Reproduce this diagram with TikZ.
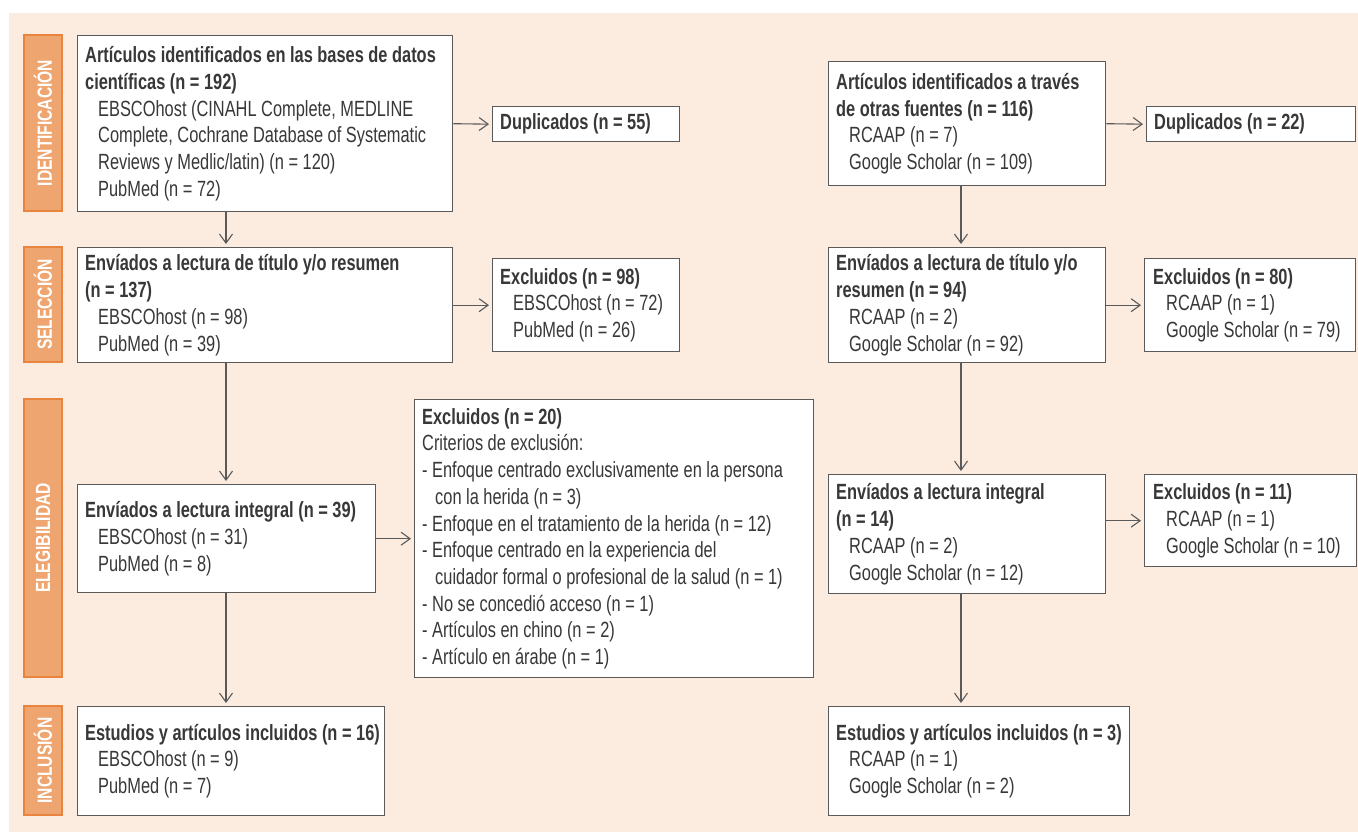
\documentclass[tikz,border=0pt]{standalone}
\usepackage{fontspec}
\setmainfont{Liberation Sans}[FakeStretch=0.745]
\newfontfamily\labelfont{Liberation Sans}[FakeStretch=0.76]
\usetikzlibrary{arrows.meta}
\definecolor{bgcol}{HTML}{FCEBDF}
\definecolor{barfill}{HTML}{EEA56F}
\definecolor{barline}{HTML}{E9843F}
\definecolor{boxline}{HTML}{5A5A5A}
\definecolor{textcol}{HTML}{383838}
\definecolor{labtext}{HTML}{FFFFFF}
\newcommand\myT[1]{\textbf{#1}}
\newcommand\myI[1]{\hspace*{13pt}#1}
\tikzset{
  box/.style={draw=boxline, fill=white, line width=1.4pt, rectangle, inner sep=0pt, anchor=north west},
  txt/.style={font=\fontsize{22}{26.7}\selectfont, text=textcol, align=left, inner sep=0pt, anchor=west},
  bar/.style={draw=barline, fill=barfill, line width=1.2pt, rotate=90, minimum height=38pt, inner sep=0pt,
              font=\labelfont\fontsize{20.5}{22}\selectfont\bfseries, text=labtext},
  arr/.style={draw=boxline, line width=1.1pt, -{Straight Barb[length=9pt,width=13pt,line width=1.1pt]}, shorten >=3pt}
}
\begin{document}
\begin{tikzpicture}[x=1pt,y=-1pt]
\useasboundingbox (0,0) rectangle (1358,832);
\fill[bgcol] (9,13) rectangle (1358,832);

% phase bars
\node[bar, minimum width=176pt] (Lid) at (43,123) {IDENTIFICACIÓN};
\node[bar, minimum width=115pt] (Lsel) at (43,304.5) {SELECCIÓN};
\node[bar, minimum width=278pt] (Leleg) at (43,538) {ELEGIBILIDAD};
\node[bar, minimum width=109pt] (Linc) at (43,760.5) {INCLUSIÓN};

% left column
\node[box, minimum width=375pt, minimum height=176pt] (A1) at (77,35) {};
\node[txt] (tA1) at ([xshift=8pt]A1.west) {\myT{Artículos identificados en las bases de datos}\\
\myT{científicas (n = 192)}\\
\myI{EBSCOhost (CINAHL Complete, MEDLINE}\\
\myI{Complete, Cochrane Database of Systematic}\\
\myI{Reviews y Medlic/latin) (n = 120)}\\
\myI{PubMed (n = 72)}};

\node[box, minimum width=187pt, minimum height=35pt] (D55) at (492,106) {};
\node[txt] (tD55) at ([xshift=8pt]D55.west) {\myT{Duplicados (n = 55)}};

\node[box, minimum width=375pt, minimum height=115pt] (A2) at (77,247) {};
\node[txt] (tA2) at ([xshift=8pt]A2.west) {\myT{Envíados a lectura de título y/o resumen}\\
\myT{(n = 137)}\\
\myI{EBSCOhost (n = 98)}\\
\myI{PubMed (n = 39)}};

\node[box, minimum width=187pt, minimum height=93pt] (E98) at (492,258) {};
\node[txt] (tE98) at ([xshift=8pt]E98.west) {\myT{Excluidos (n = 98)}\\
\myI{EBSCOhost (n = 72)}\\
\myI{PubMed (n = 26)}};

\node[box, minimum width=298pt, minimum height=108pt] (A3) at (77,484) {};
\node[txt] (tA3) at ([xshift=8pt]A3.west) {\myT{Envíados a lectura integral (n = 39)}\\
\myI{EBSCOhost (n = 31)}\\
\myI{PubMed (n = 8)}};

\node[box, minimum width=399pt, minimum height=278pt] (E20) at (414,399) {};
\node[txt] (tE20) at ([xshift=8pt]E20.west) {\myT{Excluidos (n = 20)}\\
Criterios de exclusión:\\
- Enfoque centrado exclusivamente en la persona\\
\myI{con la herida (n = 3)}\\
- Enfoque en el tratamiento de la herida (n = 12)\\
- Enfoque centrado en la experiencia del\\
\myI{cuidador formal o profesional de la salud (n = 1)}\\
- No se concedió acceso (n = 1)\\
- Artículos en chino (n = 2)\\
- Artículo en árabe (n = 1)};

\node[box, minimum width=307pt, minimum height=109pt] (A4) at (77,706) {};
\node[txt] (tA4) at ([xshift=8pt]A4.west) {\myT{Estudios y artículos incluidos (n = 16)}\\
\myI{EBSCOhost (n = 9)}\\
\myI{PubMed (n = 7)}};

% right column
\node[box, minimum width=277pt, minimum height=124pt] (B1) at (828,61) {};
\node[txt] (tB1) at ([xshift=8pt]B1.west) {\myT{Artículos identificados a través}\\
\myT{de otras fuentes (n = 116)}\\
\myI{RCAAP (n = 7)}\\
\myI{Google Scholar (n = 109)}};

\node[box, minimum width=209pt, minimum height=35pt] (D22) at (1146,106) {};
\node[txt] (tD22) at ([xshift=8pt]D22.west) {\myT{Duplicados (n = 22)}};

\node[box, minimum width=277pt, minimum height=115pt] (B2) at (828,247) {};
\node[txt] (tB2) at ([xshift=8pt]B2.west) {\myT{Envíados a lectura de título y/o}\\
\myT{resumen (n = 94)}\\
\myI{RCAAP (n = 2)}\\
\myI{Google Scholar (n = 92)}};

\node[box, minimum width=211pt, minimum height=93pt] (E80) at (1144,258) {};
\node[txt] (tE80) at ([xshift=9pt]E80.west) {\myT{Excluidos (n = 80)}\\
\myI{RCAAP (n = 1)}\\
\myI{Google Scholar (n = 79)}};

\node[box, minimum width=277pt, minimum height=119pt] (B3) at (828,474) {};
\node[txt] (tB3) at ([xshift=8pt]B3.west) {\myT{Envíados a lectura integral}\\
\myT{(n = 14)}\\
\myI{RCAAP (n = 2)}\\
\myI{Google Scholar (n = 12)}};

\node[box, minimum width=212pt, minimum height=92pt] (E11) at (1144,474) {};
\node[txt] (tE11) at ([xshift=9pt]E11.west) {\myT{Excluidos (n = 11)}\\
\myI{RCAAP (n = 1)}\\
\myI{Google Scholar (n = 10)}};

\node[box, minimum width=301pt, minimum height=109pt] (B4) at (828,706) {};
\node[txt] (tB4) at ([xshift=8pt]B4.west) {\myT{Estudios y artículos incluidos (n = 3)}\\
\myI{RCAAP (n = 1)}\\
\myI{Google Scholar (n = 2)}};

% connectors left
\draw[arr] (A1.east) -- (D55.west);
\draw[arr] ([xshift=149pt]A1.south west) -- ([xshift=149pt]A2.north west);
\draw[arr] (A2.east) -- (E98.west);
\draw[arr] ([xshift=149pt]A2.south west) -- ([xshift=149pt]A3.north west);
\draw[arr] (A3.east) -- (E20.west);
\draw[arr] ([xshift=149pt]A3.south west) -- ([xshift=149pt]A4.north west);

% connectors right
\draw[arr] (B1.east) -- (D22.west);
\draw[arr] ([xshift=133pt]B1.south west) -- ([xshift=133pt]B2.north west);
\draw[arr] (B2.east) -- (E80.west);
\draw[arr] ([xshift=133pt]B2.south west) -- ([xshift=133pt]B3.north west);
\draw[arr] (E11.west -| B3.east) -- (E11.west);
\draw[arr] ([xshift=133pt]B3.south west) -- ([xshift=133pt]B4.north west);
\end{tikzpicture}
\end{document}
